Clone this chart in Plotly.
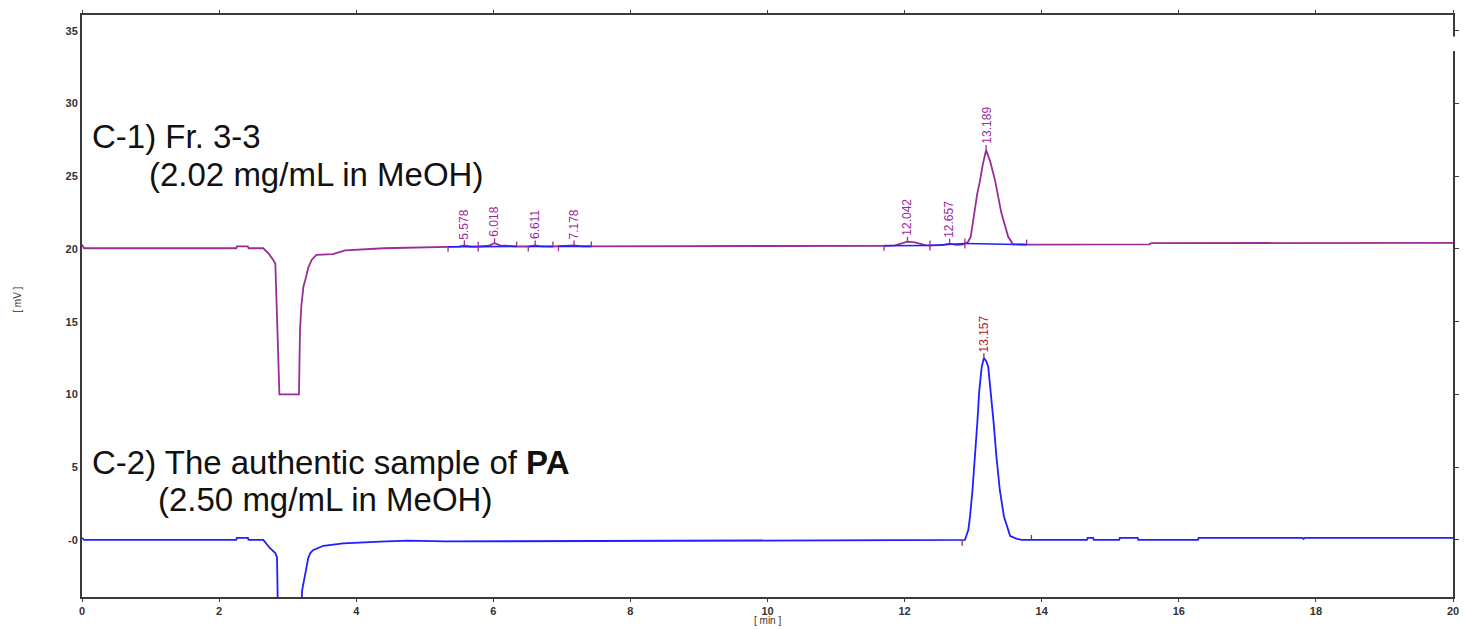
import numpy as np
import plotly.graph_objects as go

# ---- chromatogram C-1: Fr. 3-3 (retention time [min], signal [mV]) ----
c1_points = [
    (0.00, 20.30), (0.03, 20.05), (2.25, 20.05), (2.26, 20.18), (2.42, 20.18),
    (2.43, 20.05), (2.645, 20.05), (2.72, 19.70), (2.79, 19.25), (2.82, 19.00),
    (2.84, 16.10), (2.865, 11.10), (2.88, 10.00), (3.165, 10.00), (3.17, 11.30),
    (3.18, 14.40), (3.20, 16.10), (3.23, 17.40), (3.27, 18.10), (3.30, 18.70),
    (3.35, 19.25), (3.42, 19.60), (3.66, 19.65), (3.84, 19.90), (4.40, 20.05),
    (5.00, 20.12), (5.34, 20.15), (5.50, 20.16), (5.578, 20.25), (5.66, 20.17),
    (5.78, 20.16), (5.93, 20.22), (6.018, 20.40), (6.10, 20.25), (6.34, 20.17),
    (6.51, 20.17), (6.611, 20.25), (6.70, 20.18), (6.87, 20.17), (6.95, 20.18),
    (7.178, 20.24), (7.30, 20.18), (7.43, 20.18), (9.00, 20.20), (11.70, 20.22),
    (11.86, 20.24), (11.95, 20.35), (12.042, 20.50), (12.15, 20.45), (12.30, 20.27),
    (12.37, 20.24), (12.55, 20.26), (12.657, 20.36), (12.75, 20.28), (12.84, 20.30),
    (12.92, 20.45), (12.965, 20.85), (13.017, 22.50), (13.06, 23.80), (13.10, 24.70),
    (13.14, 25.80), (13.189, 26.80), (13.25, 26.00), (13.32, 24.70), (13.41, 22.50),
    (13.51, 20.85), (13.58, 20.32), (13.78, 20.30), (15.57, 20.32), (15.60, 20.40),
    (20.00, 20.42),
]

# ---- chromatogram C-2: authentic PA ----
c2_points = [
    (0.00, 0.15), (0.03, 0.00), (2.25, 0.00), (2.26, 0.15), (2.42, 0.15),
    (2.43, 0.00), (2.645, 0.00), (2.74, -0.55), (2.82, -0.90), (2.845, -1.20),
    (2.875, -10.00), (3.17, -10.00), (3.21, -3.50), (3.23, -3.00), (3.27, -2.10),
    (3.30, -1.25), (3.33, -0.90), (3.37, -0.70), (3.52, -0.40), (3.81, -0.23),
    (4.35, -0.12), (4.74, -0.05), (5.30, -0.10), (8.00, -0.08), (12.84, -0.05),
    (12.88, 0.00), (12.93, 0.70), (12.954, 1.60), (12.99, 3.40), (13.027, 5.70),
    (13.06, 8.00), (13.09, 10.30), (13.125, 11.90), (13.157, 12.50), (13.19, 12.30),
    (13.22, 11.90), (13.256, 10.30), (13.30, 8.00), (13.34, 5.70), (13.39, 3.40),
    (13.45, 1.60), (13.51, 0.70), (13.54, 0.27), (13.64, 0.07), (13.71, 0.00),
    (14.66, 0.00), (14.67, 0.15), (14.75, 0.15), (14.76, 0.00), (15.13, 0.00),
    (15.14, 0.15), (15.40, 0.15), (15.41, 0.00), (16.28, 0.00), (16.29, 0.14),
    (17.80, 0.14), (17.82, 0.08), (17.84, 0.15), (20.00, 0.15),
]

# ---- integrated peaks: retention time, start and end of integration ----
c1_rt = [5.578, 6.018, 6.611, 7.178, 12.042, 12.657, 13.189]
c1_start = [5.34, 5.78, 6.51, 6.95, 11.70, 12.37, 12.88]
c1_end = [5.78, 6.34, 6.87, 7.43, 12.37, 12.88, 13.78]

c2_rt = [13.157]
c2_start = [12.84]
c2_end = [13.85]

# ---- axis ticks ----
x_ticks = list(range(0, 21, 2))
y_ticks = [0, 5, 10, 15, 20, 25, 30, 35]
y_ticktext = ["-0", "5", "10", "15", "20", "25", "30", "35"]

PURPLE = "#9a2c9a"
BLUE = "#1f1fff"
DARKRED = "#a62828"
AXIS = "#3a3a3a"
FONT = "Liberation Sans, Arial, sans-serif"

c1_t, c1_v = map(np.array, zip(*c1_points))
c2_t, c2_v = map(np.array, zip(*c2_points))


def level(t, tt, vv):
    return float(np.interp(t, tt, vv))


def marks(rt, start, end, tt, vv, h=0.34):
    """Vertical markers: start (down), end (up) and apex (up)."""
    xs, ys = [], []
    for s in start:
        b = level(s, tt, vv)
        xs += [s, s, None]
        ys += [b, b - h, None]
    for e in end:
        b = level(e, tt, vv)
        xs += [e, e, None]
        ys += [b, b + h, None]
    for r in rt:
        a = level(r, tt, vv)
        xs += [r, r, None]
        ys += [a, a + h, None]
    return xs, ys


def baselines(start, end, tt, vv):
    xs, ys = [], []
    for s, e in zip(start, end):
        xs += [s, e, None]
        ys += [level(s, tt, vv), level(e, tt, vv), None]
    return xs, ys


fig = go.Figure()

fig.add_trace(go.Scatter(x=c1_t, y=c1_v, mode="lines",
                         line=dict(color=PURPLE, width=1.8), hoverinfo="skip"))
bx, by = baselines(c1_start, c1_end, c1_t, c1_v)
fig.add_trace(go.Scatter(x=bx, y=by, mode="lines",
                         line=dict(color=BLUE, width=1.6), hoverinfo="skip"))
mx, my = marks(c1_rt, c1_start, c1_end, c1_t, c1_v)
fig.add_trace(go.Scatter(x=mx, y=my, mode="lines",
                         line=dict(color=PURPLE, width=1.3), hoverinfo="skip"))

fig.add_trace(go.Scatter(x=c2_t, y=c2_v, mode="lines",
                         line=dict(color=BLUE, width=1.8), hoverinfo="skip"))
mx2, my2 = marks(c2_rt, c2_start, c2_end, c2_t, c2_v)
fig.add_trace(go.Scatter(x=mx2, y=my2, mode="lines", yaxis="y2",
                         line=dict(color=DARKRED, width=1.3), hoverinfo="skip"))

# retention-time labels above each apex
for rts, tt, vv, col in [(c1_rt, c1_t, c1_v, PURPLE), (c2_rt, c2_t, c2_v, DARKRED)]:
    for r in rts:
        fig.add_annotation(x=r, y=level(r, tt, vv), text=f"{r:.3f}",
                           textangle=-90, showarrow=False, xanchor="center",
                           yanchor="bottom", yshift=4,
                           font=dict(family=FONT, size=12, color=col))

# sample descriptions
big = dict(family=FONT, size=33, color="#111111")
fig.add_annotation(x=0.12, y=27.75, text="C-1) Fr. 3-3", showarrow=False,
                   xanchor="left", yanchor="middle", font=big)
fig.add_annotation(x=0.95, y=25.15, text="(2.02 mg/mL in MeOH)", showarrow=False,
                   xanchor="left", yanchor="middle", font=big)
fig.add_annotation(x=0.12, y=5.35, text="C-2) The authentic sample of <b>PA</b>",
                   showarrow=False, xanchor="left", yanchor="middle", font=big)
fig.add_annotation(x=1.08, y=2.75, text="(2.50 mg/mL in MeOH)", showarrow=False,
                   xanchor="left", yanchor="middle", font=big)

# axis titles
small = dict(family=FONT, size=10, color="#333333")
fig.add_annotation(xref="paper", yref="paper", x=0.5, y=-0.041, text="[ min ]",
                   showarrow=False, xanchor="center", yanchor="middle", font=small)
fig.add_annotation(xref="paper", yref="paper", x=-0.047, y=0.51, text="[ mV ]",
                   textangle=-90, showarrow=False, xanchor="center",
                   yanchor="middle", font=small)

YR = [-3.92, 36.08]
tickfont = dict(family=FONT, size=11, color="#333333", weight="bold")

fig.update_layout(
    width=1464, height=630,
    margin=dict(l=82, r=11, t=15, b=33, autoexpand=False),
    paper_bgcolor="white", plot_bgcolor="white",
    showlegend=False,
    xaxis=dict(range=[0, 20], tickvals=x_ticks, ticks="outside", ticklen=3,
               tickcolor=AXIS, showline=True, linewidth=2, linecolor=AXIS,
               mirror="ticks", showgrid=False, zeroline=False, tickfont=tickfont,
               automargin=False),
    yaxis=dict(range=YR, tickvals=y_ticks, ticktext=y_ticktext, ticks="",
               showline=True, linewidth=2, linecolor=AXIS, showgrid=False,
               zeroline=False, tickfont=tickfont, automargin=False),
    yaxis2=dict(range=YR, overlaying="y", side="right", tickvals=y_ticks,
                showticklabels=False, ticks="outside", ticklen=4, tickcolor=AXIS,
                showline=True, linewidth=2, linecolor=AXIS, showgrid=False,
                zeroline=False, automargin=False),
)

# small break in the right-hand frame line near the top
fig.add_shape(type="rect", xref="paper", yref="y", x0=0.996, x1=1.004,
              y0=33.6, y1=34.6, fillcolor="white", line=dict(width=0),
              layer="above")

fig.write_html("out.html")
